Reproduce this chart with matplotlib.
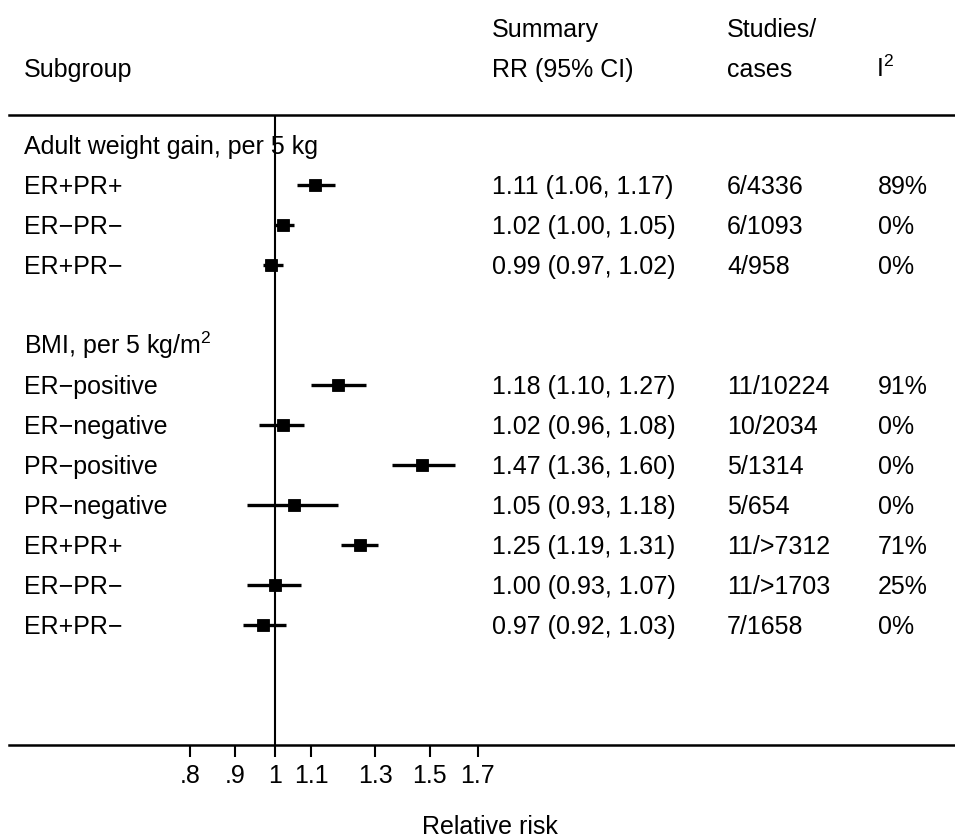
import numpy as np
import matplotlib
matplotlib.use("Agg")
import matplotlib.pyplot as plt
from matplotlib.transforms import blended_transform_factory
from matplotlib.ticker import FixedLocator, FixedFormatter, NullLocator

plt.rcParams['font.family'] = ['Liberation Sans', 'DejaVu Sans']
plt.rcParams['mathtext.fontset'] = 'custom'
plt.rcParams['mathtext.rm'] = 'Liberation Sans'
plt.rcParams['mathtext.it'] = 'Liberation Sans:italic'

# ---- data ----
group_titles = ["Adult weight gain, per 5 kg", r"BMI, per 5 kg/m$^\mathregular{2}$"]

wg_labels = ["ER+PR+", "ER\u2212PR\u2212", "ER+PR\u2212"]
wg_rr = [1.11, 1.02, 0.99]
wg_lo = [1.06, 1.00, 0.97]
wg_hi = [1.17, 1.05, 1.02]
wg_studies = ["6/4336", "6/1093", "4/958"]
wg_i2 = ["89%", "0%", "0%"]

bmi_labels = ["ER\u2212positive", "ER\u2212negative", "PR\u2212positive", "PR\u2212negative",
              "ER+PR+", "ER\u2212PR\u2212", "ER+PR\u2212"]
bmi_rr = [1.18, 1.02, 1.47, 1.05, 1.25, 1.00, 0.97]
bmi_lo = [1.10, 0.96, 1.36, 0.93, 1.19, 0.93, 0.92]
bmi_hi = [1.27, 1.08, 1.60, 1.18, 1.31, 1.07, 1.03]
bmi_studies = ["11/10224", "10/2034", "5/1314", "5/654", "11/>7312", "11/>1703", "7/1658"]
bmi_i2 = ["91%", "0%", "0%", "0%", "71%", "25%", "0%"]

tick_values = [0.8, 0.9, 1.0, 1.1, 1.3, 1.5, 1.7]
tick_labels = [".8", ".9", "1", "1.1", "1.3", "1.5", "1.7"]

# ---- layout ----
W, H = 955, 839
px_per_ln = 382.0
x_ref_px = 275.0
row0_px = 145.0
row_h = 40.0

fig = plt.figure(figsize=(W / 100, H / 100), dpi=100)
ax = fig.add_axes([0, 0, 1, 1])
ax.set_xscale('log')
ax.set_xlim(np.exp(-x_ref_px / px_per_ln), np.exp((W - x_ref_px) / px_per_ln))
ax.set_ylim((H - row0_px) / row_h, -row0_px / row_h)

# rows: group header at 0, items 1..3, blank, group header 5, items 6..12
wg_rows = np.arange(1, 1 + len(wg_labels))
bmi_rows = np.arange(6, 6 + len(bmi_labels))
header_rows = [0, 5]

all_rows = np.concatenate([wg_rows, bmi_rows])
all_rr = wg_rr + bmi_rr
all_lo = wg_lo + bmi_lo
all_hi = wg_hi + bmi_hi
all_labels = wg_labels + bmi_labels
all_studies = wg_studies + bmi_studies
all_i2 = wg_i2 + bmi_i2

top_line = -0.75
bottom_line = 15.0

ax.hlines(all_rows, all_lo, all_hi, color='black', lw=2.4, zorder=3)
ax.plot(all_rr, all_rows, 's', color='black', ms=9.0, mew=0.6, zorder=4)
ax.vlines(1.0, top_line, bottom_line, color='black', lw=1.5, zorder=2)
ax.axhline(top_line, xmin=9 / W, xmax=1, color='black', lw=1.8)

# axis styling
for s in ['top', 'left', 'right']:
    ax.spines[s].set_visible(False)
ax.spines['bottom'].set_position(('data', bottom_line))
ax.spines['bottom'].set_linewidth(1.8)
ax.spines['bottom'].set_bounds(np.exp((9 - x_ref_px) / px_per_ln), ax.get_xlim()[1])
ax.xaxis.set_major_locator(FixedLocator(tick_values))
ax.xaxis.set_major_formatter(FixedFormatter(tick_labels))
ax.xaxis.set_minor_locator(NullLocator())
ax.tick_params(axis='x', direction='out', length=8.6, width=1.5, pad=5, labelsize=18)
ax.yaxis.set_visible(False)
ax.patch.set_visible(False)

# text
tr = blended_transform_factory(ax.transAxes, ax.transData)
fs = 18
base = 9 / row_h
col_label = 24 / W
col_rr = 492 / W
col_st = 727 / W
col_i2 = 876 / W

h1 = (28 - row0_px) / row_h
h2 = (68 - row0_px) / row_h
ax.text(col_label, h2 + base, "Subgroup", transform=tr, fontsize=fs, va='baseline')
ax.text(col_rr, h1 + base, "Summary", transform=tr, fontsize=fs, va='baseline')
ax.text(col_rr, h2 + base, "RR (95% CI)", transform=tr, fontsize=fs, va='baseline')
ax.text(col_st, h1 + base, "Studies/", transform=tr, fontsize=fs, va='baseline')
ax.text(col_st, h2 + base, "cases", transform=tr, fontsize=fs, va='baseline')
ax.text(col_i2, h2 + base, r"I$^\mathregular{2}$", transform=tr, fontsize=fs, va='baseline')

for r, t in zip(header_rows, group_titles):
    ax.text(col_label, r + base, t, transform=tr, fontsize=fs, va='baseline')

for r, lab, rr, lo, hi, st, i2 in zip(all_rows, all_labels, all_rr, all_lo, all_hi,
                                       all_studies, all_i2):
    ax.text(col_label, r + base, lab, transform=tr, fontsize=fs, va='baseline')
    ax.text(col_rr, r + base, f"{rr:.2f} ({lo:.2f}, {hi:.2f})", transform=tr,
            fontsize=fs, va='baseline')
    ax.text(col_st, r + base, st, transform=tr, fontsize=fs, va='baseline')
    ax.text(col_i2 + 2 / W, r + base, i2, transform=tr, fontsize=fs, va='baseline')

xlab_row = (825 - row0_px) / row_h
ax.text(490 / W, xlab_row + base, "Relative risk", transform=tr, fontsize=fs,
        va='baseline', ha='center')

fig.savefig("out.png", dpi=100)
